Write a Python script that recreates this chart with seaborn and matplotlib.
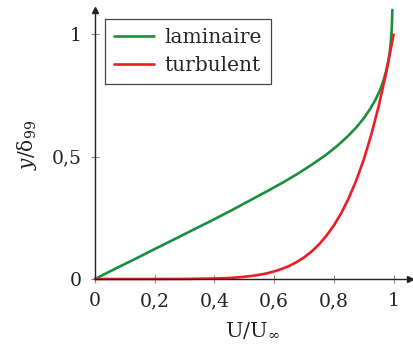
import matplotlib
matplotlib.use("Agg")
import matplotlib.pyplot as plt
import seaborn as sns
import pandas as pd

# ---- data ----
lam_u = [0.0, 0.066, 0.133, 0.199, 0.265, 0.330, 0.394, 0.456, 0.517, 0.575, 0.630,
         0.681, 0.729, 0.773, 0.812, 0.846, 0.876, 0.902, 0.923, 0.941, 0.956,
         0.967, 0.976, 0.983, 0.988, 0.991, 0.994, 0.996]
lam_y = [0.0, 0.041, 0.081, 0.122, 0.162, 0.202, 0.241, 0.280, 0.320, 0.358, 0.395,
         0.432, 0.470, 0.507, 0.545, 0.583, 0.621, 0.660, 0.698, 0.737, 0.776,
         0.815, 0.855, 0.895, 0.935, 0.975, 1.025, 1.100]
tur_u = [0.0, 0.1, 0.2, 0.3, 0.4, 0.45, 0.5, 0.525, 0.55, 0.575, 0.6, 0.625, 0.65,
         0.675, 0.7, 0.725, 0.75, 0.775, 0.8, 0.825, 0.85, 0.875, 0.9, 0.925,
         0.95, 0.975, 1.0]
tur_y = [0.0, 0.0, 0.0, 0.0003, 0.002, 0.004, 0.009, 0.0125, 0.017, 0.023, 0.031,
         0.041, 0.053, 0.069, 0.088, 0.112, 0.141, 0.177, 0.219, 0.270, 0.331,
         0.403, 0.488, 0.589, 0.706, 0.842, 1.0]
series_names = ["laminaire", "turbulent"]
series_colors = ["#1d8c3d", "#ee1c25"]
x_ticks = [0, 0.2, 0.4, 0.6, 0.8, 1.0]
x_tick_labels = ["0", "0,2", "0,4", "0,6", "0,8", "1"]
y_ticks = [0, 0.5, 1.0]
y_tick_labels = ["0", "0,5", "1"]
x_label = "U/U$_{\\infty}$"
y_label = "$y/\\mathrm{\\delta}_{99}$"

df = pd.concat([
    pd.DataFrame({"u": lam_u, "y": lam_y, "profil": series_names[0]}),
    pd.DataFrame({"u": tur_u, "y": tur_y, "profil": series_names[1]}),
])

sns.set_theme(style="white")
plt.rcParams["font.family"] = ["DejaVu Serif"]
plt.rcParams["mathtext.fontset"] = "dejavuserif"

fig = plt.figure(figsize=(4.14, 3.49), dpi=100)
W, H = 414, 349
ax = fig.add_axes([95 / W, (349 - 279) / H, 315 / W, 269 / H])

sns.lineplot(data=df, x="u", y="y", hue="profil", hue_order=series_names,
             palette=series_colors, sort=False, estimator=None,
             linewidth=1.9, ax=ax, clip_on=False)

ax.set_xlim(0, 1.055)
ax.set_ylim(0, 1.1)
ax.set_xticks(x_ticks)
ax.set_xticklabels(x_tick_labels)
ax.set_yticks(y_ticks)
ax.set_yticklabels(y_tick_labels)
ax.tick_params(axis="both", direction="inout", length=6, width=0.8,
               color="#888888", labelsize=13.5, pad=6.5, labelcolor="#222222")
ax.tick_params(axis="both", which="both", bottom=True, left=True)

for s in ["top", "right"]:
    ax.spines[s].set_visible(False)
for s in ["left", "bottom"]:
    ax.spines[s].set_color("#222222")
    ax.spines[s].set_linewidth(1.0)

# arrow heads
ax.plot(1, 0, marker=">", color="#222222", markersize=4, transform=ax.transAxes, clip_on=False)
ax.plot(0, 1, marker="^", color="#222222", markersize=4, transform=ax.transAxes, clip_on=False)

ax.set_xlabel(x_label, fontsize=15, color="#222222", labelpad=7)
ax.set_ylabel(y_label, fontsize=14.5, color="#222222", labelpad=9)

handles, labels = ax.get_legend_handles_labels()
leg = ax.legend(handles, labels, loc="upper left", bbox_to_anchor=(10 / 315, 1 - 9 / 269),
                borderaxespad=0, fancybox=False, framealpha=1, edgecolor="#444444",
                fontsize=14.5, handlelength=2.0, handletextpad=0.5, borderpad=0.45,
                labelspacing=0.45, title=None)
leg.get_frame().set_linewidth(0.9)

fig.savefig("out.png", dpi=100)
